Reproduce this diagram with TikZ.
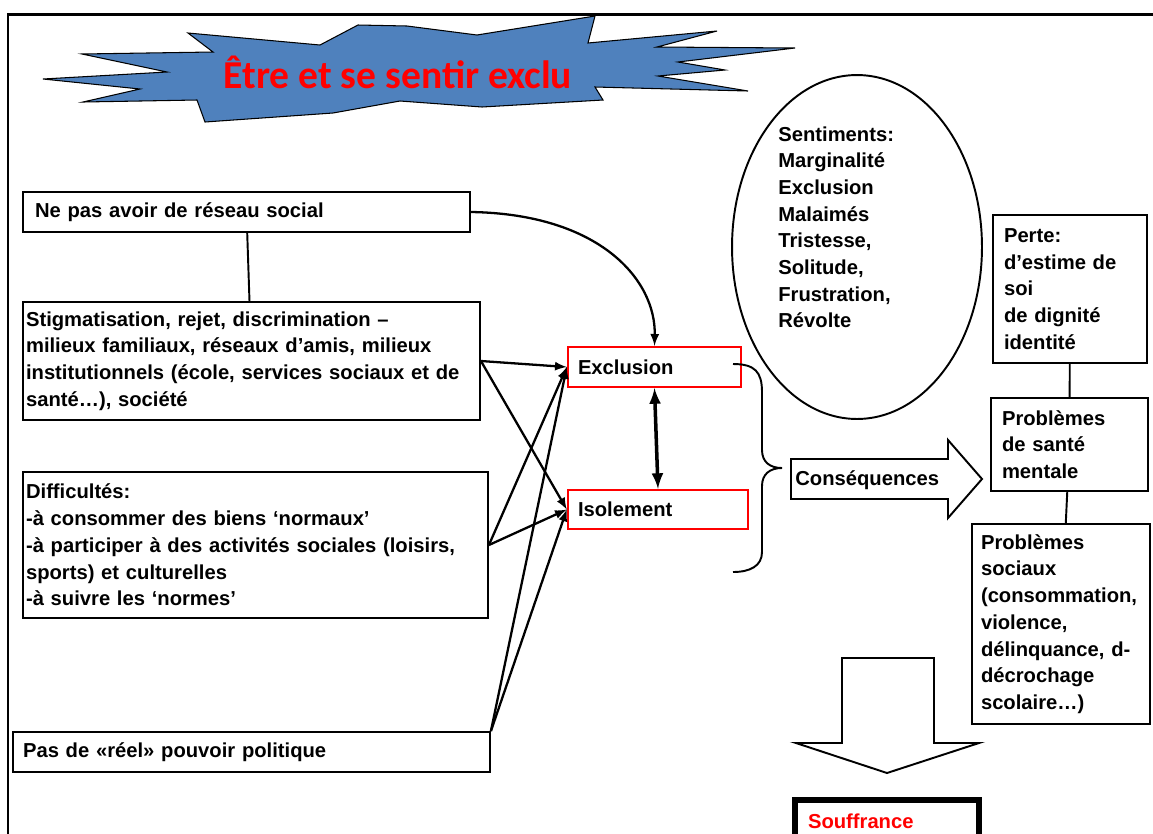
\documentclass[tikz,border=0pt]{standalone}
\usepackage{fontspec}
\setmainfont{Liberation Sans}
\newfontfamily\titlefont{Carlito}
\usepackage{xcolor}
\usetikzlibrary{arrows,shapes,positioning,calc}
\definecolor{burstblue}{RGB}{79,129,189}
\newcommand{\bodyfont}{\fontsize{11.5}{15.2}\selectfont\bfseries}

\tikzset{
  box/.style={draw, line width=1.1pt, align=left, inner ysep=2pt, font=\bodyfont},
  redbox/.style={box, draw=red, line width=1.4pt, inner xsep=0.2cm},
  conn/.style={-latex, line width=1.3pt},
  link/.style={line width=1.1pt},
}

\begin{document}
\begin{tikzpicture}[x = 0.02cm, y = -0.02cm]
  \useasboundingbox (0,0) rectangle (1153,833);
  \clip (0,0) rectangle (1153,833);
  % cadre
  \draw[line width=1.7pt] (8,850) |- (1160,14);
  % titre
  \filldraw[fill=burstblue, draw=black, line width=0.6pt]
    (43,79) -- (167,72) -- (82,54) -- (213,52) -- (188,33) -- (320,45) -- (358,25)
    -- (407,26) -- (477,35) -- (595,16) -- (588,43) -- (717,31) -- (657,47) -- (795,48)
    -- (678,62) -- (725,70) -- (658,76) -- (748,91) -- (595,87) -- (603,100) -- (482,107)
    -- (400,101) -- (333,113) -- (205,122) -- (197,100) -- (83,102) -- (140,89) -- cycle;
  \node[font={\titlefont\fontsize{22.5}{26}\selectfont\bfseries}, text=red] (title) at (398,72) {Être et se sentir exclu};

  % causes
  \node[box, inner xsep=0.24cm, text width=8.46cm, minimum height=0.8cm] (reseau) at (246.5,212) {Ne pas avoir de réseau social};
  \node[box, inner xsep=0.06cm, text width=9.02cm, minimum height=2.36cm] (stigma) at (251.5,361) {Stigmatisation, rejet, discrimination –\\milieux familiaux, réseaux d’amis, milieux\\institutionnels (école, services sociaux et de\\santé…), société};
  \node[box, inner xsep=0.06cm, text width=9.18cm, minimum height=2.92cm] (diffic) at (255.5,545) {Difficultés:\\-à consommer des biens ‘normaux’\\-à participer à des activités sociales (loisirs,\\sports) et culturelles\\-à suivre les ‘normes’};
  \node[box, inner xsep=0.2cm, text width=9.14cm, minimum height=0.8cm] (pouvoir) at (251.5,752) {Pas de «réel» pouvoir politique};

  \node[redbox, text width=3.06cm, minimum height=0.8cm] (exclusion) at (654.5,367) {Exclusion};
  \node[redbox, text width=3.2cm, minimum height=0.78cm] (isolement) at (658,509.5) {Isolement};

  \draw[link] (reseau) -- (stigma);
  \draw[conn] (reseau.east) .. controls (600,214) and (656,280) .. (exclusion.north);
  \draw[conn] (stigma.east) -- (exclusion.west);
  \draw[conn] (stigma.east) -- (isolement.west);
  \draw[conn] (diffic.east) -- (exclusion.west);
  \draw[conn] (diffic.east) -- (isolement.west);
  \draw[conn] (pouvoir.north east) -- (exclusion.west);
  \draw[conn] (pouvoir.north east) -- (isolement.west);
  \draw[latex-latex, line width=2pt] (exclusion.south) -- (isolement.north);

  % accolade
  \draw[link] (733,364) .. controls (755,364) and (762,372) .. (762,392) -- (762,450)
    .. controls (762,462) and (770,468) .. (782,468)
    .. controls (770,468) and (762,474) .. (762,486) -- (762,552)
    .. controls (762,566) and (750,572) .. (733,572);

  % sentiments
  \node[ellipse, draw, line width=1.1pt, minimum width=5cm, minimum height=6.88cm] (sent) at (857,247) {};
  \node[font=\bodyfont, align=left, anchor=north west, inner sep=0pt] (senttxt) at (778,126) {Sentiments:\\Marginalité\\Exclusion\\Malaimés\\Tristesse,\\Solitude,\\Frustration,\\Révolte};

  % consequences
  \draw[line width=1.1pt, fill=white] (791,459) -- (948,459) -- (948,440) -- (982,479) -- (948,518) -- (948,499) -- (791,499) -- cycle;
  \node[font=\bodyfont, anchor=west, inner sep=0pt] (cons) at (795,480) {Conséquences};

  \node[box, inner xsep=0.22cm, text width=2.64cm, minimum height=2.96cm] (perte) at (1070,289) {Perte:\\d’estime de\\soi\\de dignité\\identité};
  \node[box, inner xsep=0.22cm, text width=2.7cm, minimum height=1.86cm] (sante) at (1069.5,444.5) {Problèmes\\de santé\\mentale};
  \node[box, inner xsep=0.18cm, text width=3.2cm, minimum height=4cm] (sociaux) at (1061,624) {Problèmes\\sociaux\\(consommation,\\violence,\\délinquance, d-\\décrochage\\scolaire…)};
  \draw[link] (perte) -- (sante);
  \draw[link] (sante) -- (sociaux);

  % souffrance
  \draw[line width=1.1pt] (842,658) -- (934,658) -- (934,743) -- (979,743) -- (887,773) -- (796,743) -- (842,743) -- cycle;
  \node[box, line width=3.4pt, text=red, anchor=north, inner xsep=0.26cm, text width=3.16cm, minimum height=0.84cm] (souffrance) at (887,797) {Souffrance};
\end{tikzpicture}
\end{document}
